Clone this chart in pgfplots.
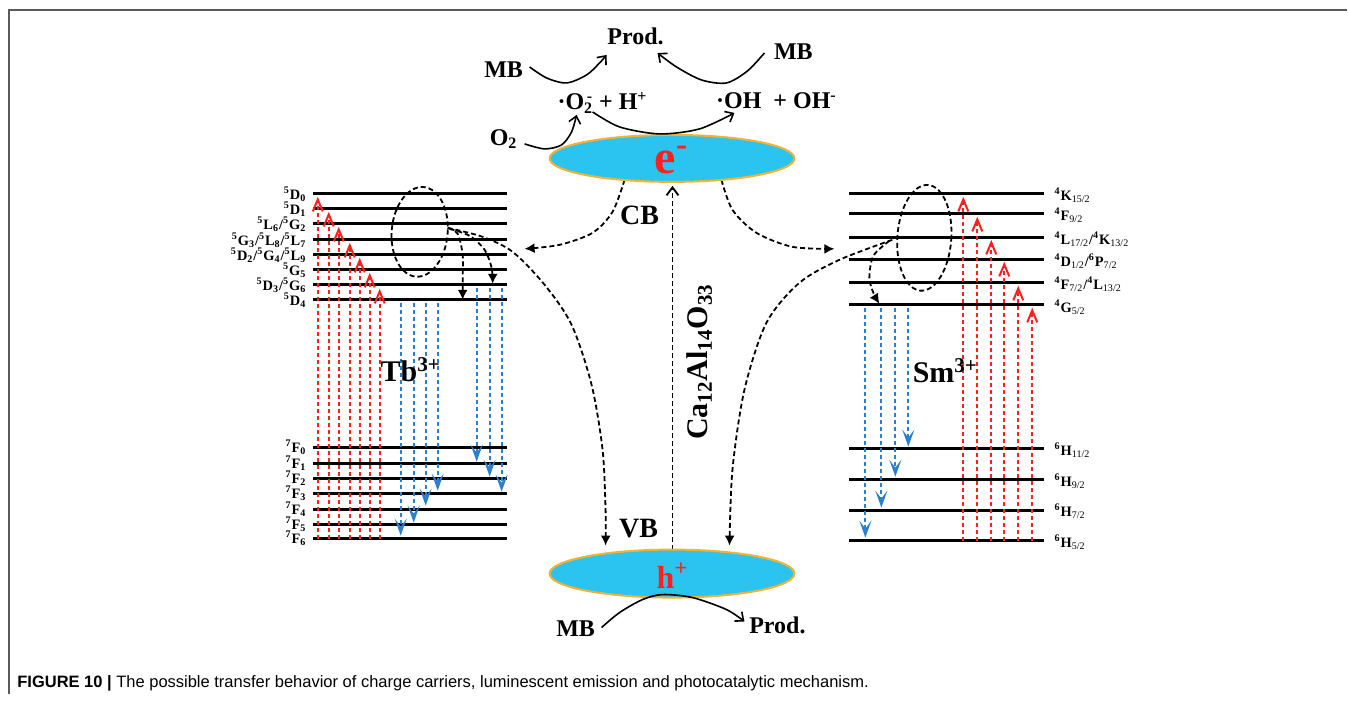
\documentclass[border=0pt]{standalone}
\usepackage{fontspec}
\setmainfont{Liberation Serif}
\setsansfont{Liberation Sans}
\usepackage{pgfplots}
\pgfplotsset{compat=1.18}
\usetikzlibrary{arrows.meta,shapes.geometric}
\definecolor{tbred}{HTML}{FF1F1F}
\definecolor{tbblue}{HTML}{2A7FD0}
\definecolor{cbcyan}{HTML}{2BC4F0}
\definecolor{cborange}{HTML}{F2B233}
\definecolor{framegray}{HTML}{5A5A5A}
\tikzset{
  level/.style={black,line width=1.5pt},
  redarr/.style={tbred,line width=1pt,dash pattern=on 2pt off 1.5pt,-{Straight Barb[length=6pt,width=5pt,line width=1pt]}},
  bluearr/.style={tbblue,line width=1pt,dash pattern=on 2pt off 1.5pt,-{Stealth[length=8.5pt,width=6pt,inset=4pt]}},
  blkdash/.style={black,line width=0.9pt,dash pattern=on 2.5pt off 1.5pt,smooth},
  blkarr/.style={blkdash,-{Latex[length=5pt,width=5pt]}},
  solidarr/.style={black,line width=0.8pt,smooth,-{Straight Barb[length=3.5pt,width=6pt]}},
  lab/.style={inner sep=0pt,font=\bfseries\fontsize{7.2}{8}\selectfont},
}
\newcommand\tbred[2]{\addplot[redarr] coordinates {(#1,539) (#1,#2)};}
\newcommand\smred[2]{\addplot[redarr] coordinates {(#1,541) (#1,#2)};}
\newcommand\bluedown[3]{\addplot[bluearr] coordinates {(#1,#2) (#1,#3)};}
\newcommand\tblevel[1]{\addplot[level] coordinates {(313,#1) (507,#1)};}
\newcommand\smlevel[1]{\addplot[level] coordinates {(850,#1) (1045,#1)};}
\begin{document}
\begin{tikzpicture}
\begin{axis}[width=674pt,height=351.5pt,scale only axis,
  xmin=0,xmax=1348,ymin=0,ymax=703,y dir=reverse,hide axis,clip=false]
% frame
\addplot[draw=none] coordinates {(0,0) (1348,703)};
\addplot[framegray,line width=1pt] coordinates {(9,695) (9,10) (1348,10)};

% Tb levels
\tblevel{194}\tblevel{209}\tblevel{224}\tblevel{240}\tblevel{255}\tblevel{270}\tblevel{285}\tblevel{300}
\tblevel{448}\tblevel{464}\tblevel{479}\tblevel{494}\tblevel{510}\tblevel{525}\tblevel{539}
% Sm levels
\smlevel{194}\smlevel{214}\smlevel{238}\smlevel{260}\smlevel{283}\smlevel{305}
\smlevel{449}\smlevel{480}\smlevel{511}\smlevel{541}

% Tb red excitation
\tbred{318}{197}\tbred{329}{212}\tbred{339}{227}\tbred{350}{243}\tbred{360}{258}\tbred{370}{273}\tbred{380}{289}
% Tb blue emission
\bluedown{401}{303}{536}\bluedown{414}{303}{523}\bluedown{426}{303}{506}\bluedown{438}{303}{491}
\bluedown{477}{288}{462}\bluedown{490}{288}{477}\bluedown{502}{288}{492}
% Sm red excitation
\smred{964}{197}\smred{978}{217}\smred{992}{240}\smred{1005}{262}\smred{1019}{286}\smred{1033}{308}
% Sm blue emission
\bluedown{866}{308}{538}\bluedown{882}{308}{508}\bluedown{896}{308}{477}\bluedown{909}{308}{447}

% dashed ellipses
\node[ellipse,draw,line width=0.9pt,dash pattern=on 2.5pt off 1.5pt,minimum width=28pt,minimum height=45pt,inner sep=0pt,rotate=-5] at (axis cs:420,232) {};
\node[ellipse,draw,line width=0.9pt,dash pattern=on 2.5pt off 1.5pt,minimum width=27pt,minimum height=53pt,inner sep=0pt,rotate=-4] at (axis cs:925,238) {};

% Tb relaxation arrows
\addplot[blkarr] coordinates {(448,228) (458,234) (463,255) (463,280) (463,300)};
\addplot[blkarr] coordinates {(450,229) (470,236) (485,250) (492,268) (493,284)};
\addplot[blkarr] coordinates {(448,228) (483,237) (513,252) (545,285) (572,325) (592,385) (603,450) (606,510) (606,546)};
% Sm relaxation arrows
\addplot[blkarr] coordinates {(890,241) (874,256) (870,278) (874,293) (880,304)};
\addplot[blkarr] coordinates {(893,240) (840,260) (800,283) (767,323) (745,390) (733,470) (730,546)};

% CB arrows
\addplot[blkarr] coordinates {(625,180) (613,212) (593,233) (560,245) (525,249)};
\addplot[blkarr] coordinates {(722,180) (733,210) (757,233) (793,247) (835,249)};

% central vertical arrow
\addplot[black,line width=0.9pt,dash pattern=on 2.5pt off 1.5pt,-{Straight Barb[length=4pt,width=6pt]}] coordinates {(673,550) (673,186)};

% ellipses
\node[ellipse,fill=cbcyan,draw=cborange,line width=1pt,minimum width=122.5pt,minimum height=23.5pt,inner sep=0pt] at (axis cs:672.5,158.5) {};
\node[ellipse,fill=cbcyan,draw=cborange,line width=1pt,minimum width=122.5pt,minimum height=24pt,inner sep=0pt] at (axis cs:672.5,574) {};

% solid reaction arrows
\addplot[solidarr] coordinates {(530,67) (547,78) (567,83) (587,75) (600,63) (607,55)};
\addplot[solidarr] coordinates {(765,53) (748,71) (727,83) (702,80) (677,67) (658,53)};
\addplot[solidarr] coordinates {(525,144) (545,149) (562,145) (572,132) (577,115)};
\addplot[solidarr] coordinates {(593,112) (620,127) (660,134) (700,129) (735,113)};
\addplot[solidarr] coordinates {(602,628) (620,613) (643,600) (663,595) (693,598) (727,610) (745,622)};

% texts
\node[inner sep=0pt,font=\bfseries\fontsize{12}{12}\selectfont] at (axis cs:636,36) {Prod.};
\node[inner sep=0pt,font=\bfseries\fontsize{12}{12}\selectfont] at (axis cs:504,70) {MB};
\node[inner sep=0pt,font=\bfseries\fontsize{12}{12}\selectfont] at (axis cs:794,52) {MB};
\node[inner sep=0pt,font=\bfseries\fontsize{12}{12}\selectfont] at (axis cs:603,103) {·O\textsubscript{2}\llap{\textsuperscript{-}} + H\textsuperscript{+}};
\node[inner sep=0pt,font=\bfseries\fontsize{12}{12}\selectfont] at (axis cs:777,101) {·OH \ + OH\textsuperscript{-}};
\node[inner sep=0pt,font=\bfseries\fontsize{12}{12}\selectfont] at (axis cs:504,139) {O\textsubscript{2}};
\node[inner sep=0pt,font=\bfseries\fontsize{12}{12}\selectfont] at (axis cs:576,629) {MB};
\node[inner sep=0pt,font=\bfseries\fontsize{12}{12}\selectfont] at (axis cs:778,626) {Prod.};
\node[inner sep=0pt,text=tbred,font=\bfseries\fontsize{24}{24}\selectfont] at (axis cs:672,160) {e\textsuperscript{-}};
\node[inner sep=0pt,text=tbred,font=\bfseries\fontsize{16}{16}\selectfont] at (axis cs:673,576) {h\textsuperscript{+}};
\node[inner sep=0pt,font=\bfseries\fontsize{14}{14}\selectfont] at (axis cs:640,216) {CB};
\node[inner sep=0pt,font=\bfseries\fontsize{14}{14}\selectfont] at (axis cs:639,529) {VB};
\node[inner sep=0pt,font=\bfseries\fontsize{15}{15}\selectfont] at (axis cs:411,370) {Tb\textsuperscript{3+}};
\node[inner sep=0pt,font=\bfseries\fontsize{15}{15}\selectfont] at (axis cs:946,371) {Sm\textsuperscript{3+}};
\node[inner sep=0pt,rotate=90,font=\bfseries\fontsize{15}{15}\selectfont] at (axis cs:700,362) {Ca\textsubscript{12}Al\textsubscript{14}O\textsubscript{33}};

% Tb labels
\node[lab,anchor=east] at (axis cs:307,194) {\textsuperscript{5}D\textsubscript{0}};
\node[lab,anchor=east] at (axis cs:307,209) {\textsuperscript{5}D\textsubscript{1}};
\node[lab,anchor=east] at (axis cs:307,224) {\textsuperscript{5}L\textsubscript{6}/\textsuperscript{5}G\textsubscript{2}};
\node[lab,anchor=east] at (axis cs:307,240) {\textsuperscript{5}G\textsubscript{3}/\textsuperscript{5}L\textsubscript{8}/\textsuperscript{5}L\textsubscript{7}};
\node[lab,anchor=east] at (axis cs:307,255) {\textsuperscript{5}D\textsubscript{2}/\textsuperscript{5}G\textsubscript{4}/\textsuperscript{5}L\textsubscript{9}};
\node[lab,anchor=east] at (axis cs:307,270) {\textsuperscript{5}G\textsubscript{5}};
\node[lab,anchor=east] at (axis cs:307,285) {\textsuperscript{5}D\textsubscript{3}/\textsuperscript{5}G\textsubscript{6}};
\node[lab,anchor=east] at (axis cs:307,300) {\textsuperscript{5}D\textsubscript{4}};
\node[lab,anchor=east] at (axis cs:307,448) {\textsuperscript{7}F\textsubscript{0}};
\node[lab,anchor=east] at (axis cs:307,464) {\textsuperscript{7}F\textsubscript{1}};
\node[lab,anchor=east] at (axis cs:307,479) {\textsuperscript{7}F\textsubscript{2}};
\node[lab,anchor=east] at (axis cs:307,494) {\textsuperscript{7}F\textsubscript{3}};
\node[lab,anchor=east] at (axis cs:307,510) {\textsuperscript{7}F\textsubscript{4}};
\node[lab,anchor=east] at (axis cs:307,525) {\textsuperscript{7}F\textsubscript{5}};
\node[lab,anchor=east] at (axis cs:307,539) {\textsuperscript{7}F\textsubscript{6}};
% Sm labels
\node[lab,anchor=west] at (axis cs:1055,195) {\textsuperscript{4}K\textsubscript{\mdseries 15/2}};
\node[lab,anchor=west] at (axis cs:1055,215) {\textsuperscript{4}F\textsubscript{\mdseries 9/2}};
\node[lab,anchor=west] at (axis cs:1055,239) {\textsuperscript{4}L\textsubscript{\mdseries 17/2}/\textsuperscript{4}K\textsubscript{\mdseries 13/2}};
\node[lab,anchor=west] at (axis cs:1055,261) {\textsuperscript{4}D\textsubscript{\mdseries 1/2}/\textsuperscript{6}P\textsubscript{\mdseries 7/2}};
\node[lab,anchor=west] at (axis cs:1055,284) {\textsuperscript{4}F\textsubscript{\mdseries 7/2}/\textsuperscript{4}L\textsubscript{\mdseries 13/2}};
\node[lab,anchor=west] at (axis cs:1055,307) {\textsuperscript{4}G\textsubscript{\mdseries 5/2}};
\node[lab,anchor=west] at (axis cs:1055,451) {\textsuperscript{6}H\textsubscript{\mdseries 11/2}};
\node[lab,anchor=west] at (axis cs:1055,482) {\textsuperscript{6}H\textsubscript{\mdseries 9/2}};
\node[lab,anchor=west] at (axis cs:1055,512) {\textsuperscript{6}H\textsubscript{\mdseries 7/2}};
\node[lab,anchor=west] at (axis cs:1055,543) {\textsuperscript{6}H\textsubscript{\mdseries 5/2}};

% caption
\node[anchor=base west,inner sep=0pt,text=black,font=\sffamily\fontsize{8.25}{9}\selectfont] at (axis cs:17,688) {\textbf{FIGURE 10 |} The possible transfer behavior of charge carriers, luminescent emission and photocatalytic mechanism.};
\end{axis}
\end{tikzpicture}
\end{document}
